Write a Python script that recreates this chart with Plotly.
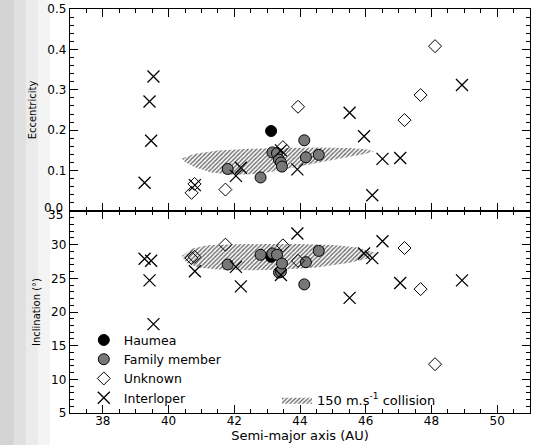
import plotly.graph_objects as go
from plotly.subplots import make_subplots

# ---------------- data ----------------
haumea_a = [43.12]
haumea_e = [0.198]
haumea_i = [28.2]

family_a = [41.80, 42.80, 43.16, 43.30, 43.36, 43.42, 43.45, 44.13, 44.18, 44.57]
family_e = [0.104, 0.083, 0.145, 0.143, 0.127, 0.120, 0.110, 0.175, 0.133, 0.139]
family_i = [27.05, 28.5, 28.7, 28.5, 25.86, 26.0, 27.2, 24.1, 27.4, 29.07]

unknown_a = [40.70, 40.79, 41.73, 43.48, 43.94, 47.18, 47.67, 48.11]
unknown_e = [0.045, 0.067, 0.053, 0.158, 0.258, 0.225, 0.287, 0.408]
unknown_i = [28.0, 28.2, 30.0, 29.9, 27.6, 29.5, 23.4, 12.25]

inter_a = [39.27, 39.42, 39.47, 39.54, 40.80, 42.05, 42.20, 43.42, 43.92,
           45.51, 45.95, 46.20, 46.51, 47.05, 48.93]
inter_e = [0.070, 0.271, 0.174, 0.333, 0.064, 0.087, 0.107, 0.150, 0.103,
           0.243, 0.185, 0.039, 0.129, 0.131, 0.312]
inter_i = [27.9, 24.7, 27.6, 18.2, 26.05, 26.7, 23.8, 25.5, 31.65,
           22.1, 28.7, 28.0, 30.5, 24.3, 24.7]

# 150 m/s collision regions (outline of the hatched areas)
coll_top_a = [40.4, 40.8, 41.5, 42.5, 43.5, 44.5, 45.5, 46.0, 46.25,
              46.0, 45.5, 44.6, 43.6, 42.8, 42.0, 41.3, 40.8, 40.5, 40.4]
coll_top_e = [0.130, 0.142, 0.150, 0.154, 0.156, 0.157, 0.156, 0.153, 0.148,
              0.142, 0.134, 0.120, 0.103, 0.092, 0.089, 0.095, 0.108, 0.121, 0.130]
coll_bot_a = [40.4, 40.7, 41.2, 42.0, 43.0, 44.0, 45.0, 45.7, 46.3,
              46.1, 45.5, 44.5, 43.5, 42.5, 41.5, 40.9, 40.55, 40.4]
coll_bot_i = [28.3, 29.4, 29.9, 30.05, 30.1, 30.1, 29.95, 29.6, 28.8,
              28.0, 27.3, 26.6, 26.3, 26.2, 26.3, 26.6, 27.3, 28.3]

x_ticks = [38, 40, 42, 44, 46, 48, 50]
e_ticks = [0.1, 0.2, 0.3, 0.4, 0.5]      # 0.0 is written separately
i_ticks = [5, 10, 15, 20, 25, 30]        # 35 is written separately
legend_names = ["Haumea", "Family member", "Unknown", "Interloper"]
collision_label = "150 m.s<sup>-1</sup> collision"
slide_number = "25"

# ---------------- figure ----------------
FONT = "DejaVu Sans"
fig = make_subplots(rows=2, cols=1, shared_xaxes=True, vertical_spacing=0)

hatch = dict(shape="/", size=3, solidity=0.45, fgcolor="#6a6a6a",
             bgcolor="white", fillmode="replace")

fig.add_trace(go.Scatter(x=coll_top_a, y=coll_top_e, mode="lines", fill="toself",
                         line=dict(width=0, color="rgba(0,0,0,0)"),
                         fillcolor="white", fillpattern=hatch,
                         showlegend=False, hoverinfo="skip"), row=1, col=1)
fig.add_trace(go.Scatter(x=coll_bot_a, y=coll_bot_i, mode="lines", fill="toself",
                         line=dict(width=0, color="rgba(0,0,0,0)"),
                         fillcolor="white", fillpattern=hatch,
                         name=collision_label, legend="legend2",
                         showlegend=True, hoverinfo="skip"), row=2, col=1)

styles = {
    "Haumea": dict(symbol="circle", size=11, color="black",
                   line=dict(color="black", width=1)),
    "Family member": dict(symbol="circle", size=11, color="#787878",
                          line=dict(color="black", width=1)),
    "Unknown": dict(symbol="diamond-open", size=10, color="black",
                    line=dict(color="black", width=1)),
    "Interloper": dict(symbol="x-thin-open", size=12, color="black",
                       line=dict(color="black", width=1.3)),
}
series = {
    "Haumea": (haumea_a, haumea_e, haumea_i),
    "Family member": (family_a, family_e, family_i),
    "Unknown": (unknown_a, unknown_e, unknown_i),
    "Interloper": (inter_a, inter_e, inter_i),
}
for name in legend_names:
    a, e, i = series[name]
    fig.add_trace(go.Scatter(x=a, y=e, mode="markers", marker=styles[name],
                             name=name, showlegend=False), row=1, col=1)
    fig.add_trace(go.Scatter(x=a, y=i, mode="markers", marker=styles[name],
                             name=name, showlegend=True, legend="legend"),
                  row=2, col=1)

axis_common = dict(showline=True, linecolor="black", linewidth=1.4,
                   mirror="ticks", ticks="inside", ticklen=8, tickwidth=1,
                   tickcolor="black", showgrid=False, zeroline=False,
                   automargin=False,
                   tickfont=dict(family=FONT, size=12, color="black"))

xa = dict(axis_common, range=[37, 51], tickvals=x_ticks,
          minor=dict(dtick=0.5, tick0=37, ticks="inside", ticklen=4,
                     tickcolor="black", showgrid=False))
fig.update_xaxes(xa, row=1, col=1, showticklabels=False)
fig.update_xaxes(xa, row=2, col=1, showticklabels=True, ticklabelstandoff=-4,
                 title=dict(text="Semi-major axis (AU)", standoff=2,
                            font=dict(family=FONT, size=13, color="black")))

fig.update_yaxes(axis_common, row=1, col=1, range=[0, 0.5], tickvals=e_ticks,
                 ticktext=[f"{v:.1f}" for v in e_ticks],
                 minor=dict(dtick=0.02, tick0=0, ticks="inside", ticklen=4,
                            tickcolor="black", showgrid=False),
                 title=dict(text="Eccentricity", standoff=8,
                            font=dict(family=FONT, size=10, color="black")))
fig.update_yaxes(axis_common, row=2, col=1, range=[5, 35], tickvals=i_ticks,
                 minor=dict(dtick=1, tick0=5, ticks="inside", ticklen=4,
                            tickcolor="black", showgrid=False),
                 title=dict(text="Inclination (°)", standoff=8,
                            font=dict(family=FONT, size=10, color="black")))

# soft grey band on the left (slide background)
band_px = [(0, 14, "#d4d4d4"), (14, 26, "#e0e0e0"), (26, 38, "#ebebeb"),
           (38, 50, "#f4f4f4")]
shapes = []
for x0, x1, c in band_px:
    shapes.append(dict(type="rect", xref="paper", yref="paper",
                       x0=(x0 - 70) / 459.5, x1=(x1 - 70) / 459.5,
                       y0=-0.1, y1=1.05, fillcolor=c, line=dict(width=0),
                       layer="below"))

annotations = [
    dict(text="0.0", xref="paper", yref="y", x=0, y=0, xanchor="right",
         yanchor="middle", xshift=-5, yshift=3, showarrow=False,
         font=dict(family=FONT, size=12, color="black")),
    dict(text="35", xref="paper", yref="y2", x=0, y=35, xanchor="right",
         yanchor="middle", xshift=-5, yshift=-4, showarrow=False,
         font=dict(family=FONT, size=12, color="black")),
    dict(text=slide_number, xref="paper", yref="paper",
         x=0.844, y=-0.076, xanchor="center", yanchor="top",
         showarrow=False,
         font=dict(family="Liberation Sans", size=24, color="#9a9a9a")),
]

fig.update_layout(
    width=536, height=445,
    margin=dict(l=70, r=6, t=9, b=32),
    paper_bgcolor="white", plot_bgcolor="white",
    font=dict(family=FONT, size=12, color="black"),
    shapes=shapes,
    legend=dict(x=0.03, y=0.217, xanchor="left", yanchor="top",
                bgcolor="rgba(0,0,0,0)", borderwidth=0,
                font=dict(family=FONT, size=12.5, color="black"),
                tracegroupgap=0, itemsizing="trace"),
    legend2=dict(x=0.45, y=0.07, xanchor="left", yanchor="top",
                 bgcolor="rgba(0,0,0,0)", borderwidth=0,
                 font=dict(family=FONT, size=13, color="black")),
    annotations=annotations,
)

fig.write_html("out.html")
